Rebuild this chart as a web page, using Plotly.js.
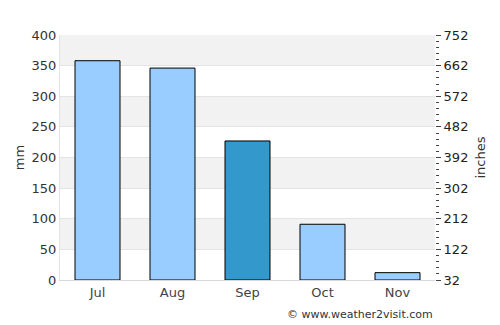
<!DOCTYPE html>
<html><head><meta charset="utf-8">
<script src="https://cdn.plot.ly/plotly-3.0.1.min.js"></script>
<style>body{margin:0;padding:0;background:#fff}#c{width:500px;height:325px}</style>
</head><body><div id="c"></div>
<script>
const months = ["Jul", "Aug", "Sep", "Oct", "Nov"];
const rainMm = [358, 346, 227, 91, 12];
const barColors = ["#99ccff", "#99ccff", "#3399cc", "#99ccff", "#99ccff"];
const leftTicks = [0, 50, 100, 150, 200, 250, 300, 350, 400];
const rightTickVals = [32, 122, 212, 302, 392, 482, 572, 662, 752];
const rightTickLabels = ["32", "122", "212", "302", "392", "482", "572", "662", "752"];

const bandShapes = [];
for (let i = 0; i + 1 < leftTicks.length; i++) {
  if (i % 2 === 1) {
    bandShapes.push({type: "rect", xref: "paper", yref: "y", x0: 0, x1: 1,
      y0: leftTicks[i], y1: leftTicks[i + 1], fillcolor: "#f2f2f2", line: {width: 0}, layer: "below"});
  }
}

const data = [{
  type: "bar", x: months, y: rainMm, width: 0.6,
  marker: {color: barColors, line: {color: "#000", width: 1}},
  hoverinfo: "none"
}, {
  type: "scatter", mode: "markers", x: [months[0]], y: [rightTickVals[0]], yaxis: "y2",
  marker: {opacity: 0, size: 1}, hoverinfo: "none", showlegend: false
}];

const layout = {
  width: 500, height: 325,
  margin: {l: 60, r: 65, t: 35, b: 45},
  paper_bgcolor: "#fff", plot_bgcolor: "#fff",
  font: {family: "DejaVu Sans", size: 13, color: "#333"},
  showlegend: false,
  shapes: bandShapes,
  xaxis: {
    showline: true, linecolor: "#d8d8d8", linewidth: 1,
    ticks: "", tickfont: {size: 13, color: "#444"}, fixedrange: true
  },
  yaxis: {
    range: [0, 400], tickvals: leftTicks, ticks: "",
    showgrid: true, gridcolor: "#e4e4e4", zeroline: false,
    showline: true, linecolor: "#e4e4e4",
    title: {text: "mm", font: {size: 13, color: "#333"}, standoff: 4},
    tickfont: {size: 13, color: "#333"}
  },
  yaxis2: {
    overlaying: "y", side: "right", range: [32, 752],
    tickvals: rightTickVals, ticktext: rightTickLabels,
    ticks: "outside", ticklen: 5, tickcolor: "#444", showgrid: false, zeroline: false,
    minor: {dtick: 18, tick0: 32, ticks: "outside", ticklen: 3, tickcolor: "#444", showgrid: false},
    title: {text: "inches", font: {size: 13, color: "#333"}, standoff: 8},
    tickfont: {size: 13, color: "#222"}
  },
  annotations: [{
    text: "© www.weather2visit.com", xref: "paper", yref: "paper",
    x: 1, y: 0, xanchor: "right", yanchor: "top", yshift: -26, showarrow: false,
    font: {size: 11, color: "#333"}
  }]
};
Plotly.newPlot("c", data, layout, {displayModeBar: false, staticPlot: true});
</script></body></html>
